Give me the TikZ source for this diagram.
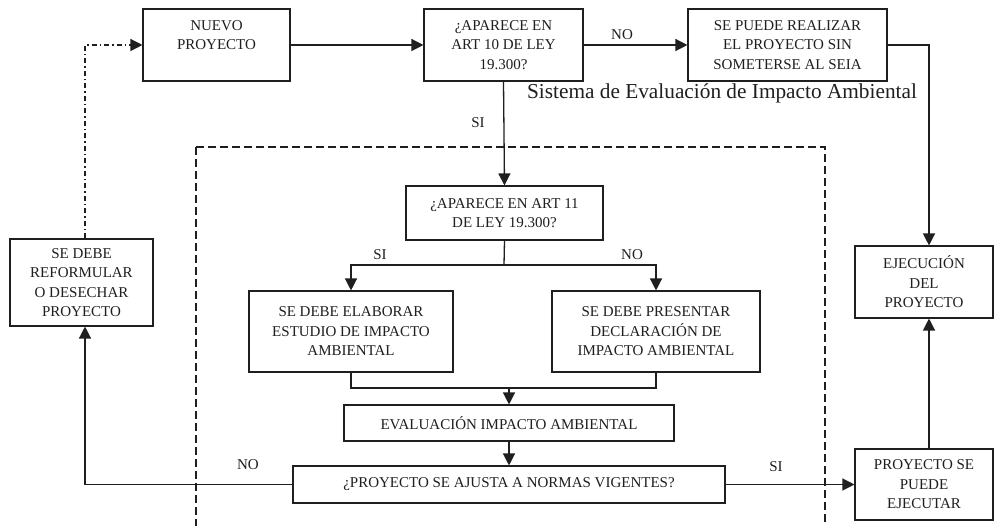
\documentclass[tikz,border=0pt]{standalone}
\usepackage{fontspec}
\setmainfont{Liberation Serif}
\usetikzlibrary{arrows.meta}
\begin{document}
\begin{tikzpicture}[x=1pt,y=-1pt,
  box/.style={draw=black!88, line width=1.1pt, rectangle, align=center, inner sep=0pt, text=black!88, font=\fontsize{15}{19.5}\selectfont},
  lbl/.style={text=black!88, font=\fontsize{15}{18}\selectfont, inner sep=0pt},
  conn/.style={draw=black!88, line width=1.3pt},
  arr/.style={conn, -{Triangle[length=12pt,width=12pt]}},
  frame/.style={draw=black!88, line width=1.2pt, dash pattern=on 8pt off 4pt},
  ret/.style={arr, dash pattern=on 5pt off 3pt on 1.5pt off 3pt}]
\useasboundingbox (0,0) rectangle (996,526);
\fill[white] (0,0) rectangle (996,526);
% dashed frame (SEIA)
\draw[frame] (196,147) rectangle (825,560);
\node[lbl, font=\fontsize{21.3}{24}\selectfont] (seiatitle) at (722,93) {Sistema de Evaluación de Impacto Ambiental};
% boxes
\node[box, minimum width=147pt, minimum height=72pt] (nuevo) at (216.5,45) {NUEVO\\PROYECTO\\\phantom{X}};
\node[box, minimum width=159pt, minimum height=72pt] (art10) at (503.5,45) {¿APARECE EN\\ART 10 DE LEY\\19.300?};
\node[box, minimum width=199pt, minimum height=72pt] (seia) at (787.5,45) {SE PUEDE REALIZAR\\EL PROYECTO SIN\\SOMETERSE AL SEIA};
\node[box, minimum width=143pt, minimum height=87pt] (reform) at (81.5,282.5) {SE DEBE\\REFORMULAR\\O DESECHAR\\PROYECTO};
\node[box, minimum width=197pt, minimum height=54pt] (art11) at (504.5,213) {¿APARECE EN ART 11\\DE LEY 19.300?};
\node[box, minimum width=204pt, minimum height=81pt] (estudio) at (351,331.5) {SE DEBE ELABORAR\\ESTUDIO DE IMPACTO\\AMBIENTAL};
\node[box, minimum width=208pt, minimum height=81pt] (decl) at (656,331.5) {SE DEBE PRESENTAR\\DECLARACIÓN DE\\IMPACTO AMBIENTAL};
\node[box, minimum width=330pt, minimum height=36pt] (eval) at (509,423) {EVALUACIÓN IMPACTO AMBIENTAL};
\node[box, minimum width=432pt, minimum height=37pt] (ajusta) at (509,484.5) {¿PROYECTO SE AJUSTA A NORMAS VIGENTES?};
\node[box, minimum width=138pt, minimum height=72pt] (ejec) at (924,282) {EJECUCIÓN\\DEL\\PROYECTO};
\node[box, minimum width=138pt, minimum height=71pt] (ps) at (924,484.5) {PROYECTO SE\\PUEDE\\EJECUTAR};
% helper coordinates
\coordinate (cx) at (929,0);
\coordinate (rx) at (85,0);
\coordinate (split) at (504,265);
\coordinate (merge) at (509,388);
% connectors
\draw[arr] (nuevo.east) -- (art10.west);
\draw[arr] (art10.east) -- (seia.west);
\draw[arr] (seia.east) -| (ejec.north -| cx);
\draw[arr] (art10.south) -- (art11.north);
\draw[conn] (art11.south) -- (split);
\draw[arr] (split) -| (estudio.north);
\draw[arr] (split) -| (decl.north);
\draw[conn] (estudio.south) |- (merge) -| (decl.south);
\draw[arr] (merge) -- (eval.north);
\draw[arr] (eval.south) -- (ajusta.north);
\draw[arr] (ajusta.west) -| (reform.south -| rx);
\draw[arr] (ajusta.east) -- (ps.west);
\draw[arr] (ps.north -| cx) -- (ejec.south -| cx);
\draw[ret] (reform.north -| rx) |- (nuevo.west);
% labels
\node[lbl] (l1) at (622,35) {NO};
\node[lbl] (l2) at (478,123) {SI};
\node[lbl] (l3) at (380,255) {SI};
\node[lbl] (l4) at (632,255) {NO};
\node[lbl] (l5) at (248,465) {NO};
\node[lbl] (l6) at (776,467) {SI};
\end{tikzpicture}
\end{document}
